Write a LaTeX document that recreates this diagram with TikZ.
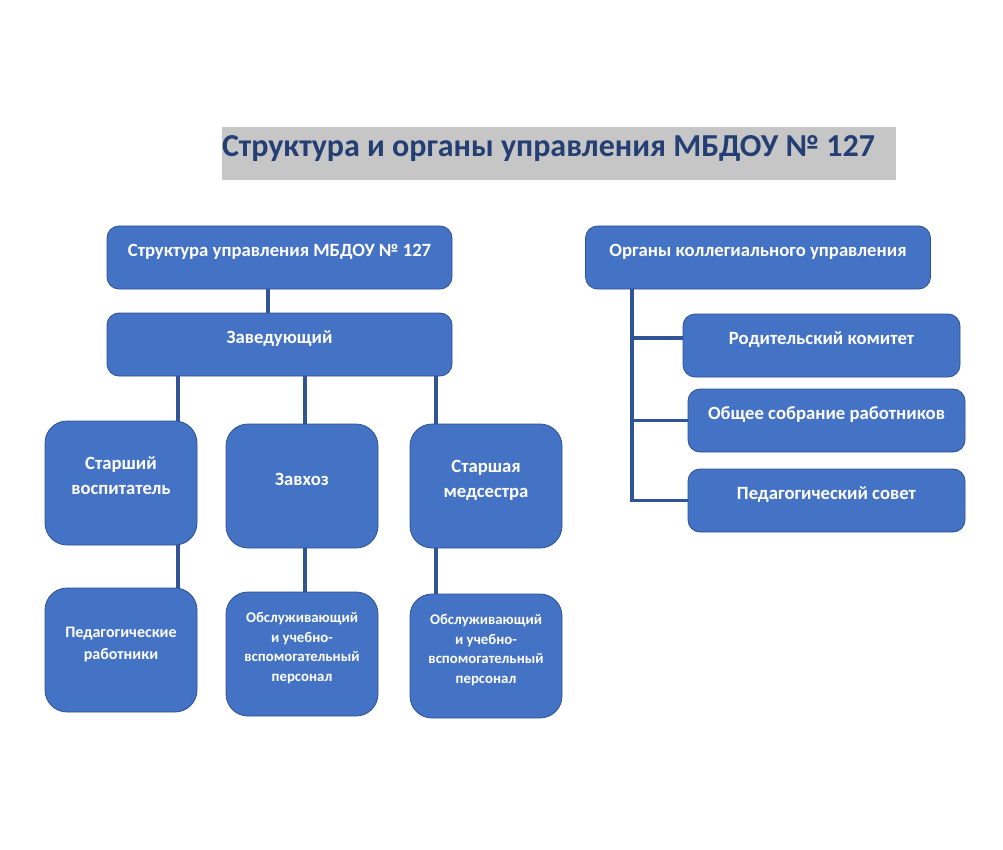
\documentclass[tikz,border=0pt]{standalone}
\usepackage{fontspec}
\setmainfont{Carlito}
\usepackage{tikz}

\definecolor{boxfill}{HTML}{4472C4}
\definecolor{boxline}{HTML}{2F528F}
\definecolor{connline}{HTML}{2F5597}
\definecolor{titlegray}{HTML}{C6C6C6}
\definecolor{titleblue}{HTML}{243F73}

% texto da caixa um pouco acima do centro
\newcommand{\lift}[1]{\raisebox{6pt}[\height][\depth]{\begin{tabular}{@{}c@{}}#1\end{tabular}}}

\tikzset{
    caixa/.style={draw=boxline, line width=0.8pt, fill=boxfill, text=white, inner sep=0pt,
        rounded corners=12pt, minimum width=345pt, minimum height=63pt,
        font=\bfseries\fontsize{18.7}{25}\selectfont},
    alta/.style={caixa, rounded corners=22pt, minimum width=152pt, minimum height=124pt},
    menor/.style={alta, font=\bfseries\fontsize{14.8}{19.5}\selectfont},
    conexao/.style={draw=connline, line width=3.5pt}
}

\begin{document}
\begin{tikzpicture}[x=1pt, y=-1pt]

        \useasboundingbox (0,0) rectangle (1003,850);

        % titulo
        \node[fill=titlegray, text=titleblue, minimum height=53pt, minimum width=674pt, inner sep=0pt,
            font=\bfseries\fontsize{32}{38}\selectfont] (titulo) at (559,153.5)
            {\makebox[674pt][l]{\raisebox{5pt}[\height][\depth]{Структура и органы управления МБДОУ №~127}}};

        % lado esquerdo
        \node[caixa] (estrutura) at (279.5,257.5) {\lift{Структура управления МБДОУ № 127}};
        \node[caixa] (chefe) at (279.5,344.5) {\lift{Заведующий}};

        \node[alta] (vospit) at (121,483) {\lift{Старший\\воспитатель}};
        \node[alta] (zavhoz) at (302,486) {\lift{Завхоз}};
        \node[alta] (medsestra) at (486,486) {\lift{Старшая\\медсестра}};

        \node[menor, font=\bfseries\fontsize{16}{22}\selectfont] (pedrab) at (121,650) {\lift{Педагогические\\работники}};
        \node[menor] (pessoal1) at (302,654) {\lift{Обслуживающий\\и учебно-\\вспомогательный\\персонал}};
        \node[menor] (pessoal2) at (486,656) {\lift{Обслуживающий\\и учебно-\\вспомогательный\\персонал}};

        \draw[conexao] (estrutura.south -| 268,0) -- (chefe.north -| 268,0);
        \draw[conexao] (chefe.south -| 178,0) -- (vospit.north -| 178,0);
        \draw[conexao] (chefe.south -| 305,0) -- (zavhoz.north -| 305,0);
        \draw[conexao] (chefe.south -| 436,0) -- (medsestra.north -| 436,0);
        \draw[conexao] (vospit.south -| 178,0) -- (pedrab.north -| 178,0);
        \draw[conexao] (zavhoz.south -| 305,0) -- (pessoal1.north -| 305,0);
        \draw[conexao] (medsestra.south -| 436,0) -- (pessoal2.north -| 436,0);

        % lado direito
        \node[caixa] (orgaos) at (758,257.5) {\lift{Органы коллегиального управления}};
        \node[caixa, minimum width=277pt] (comite) at (821.5,345.5) {\lift{Родительский комитет}};
        \node[caixa, minimum width=277pt] (reuniao) at (826.5,420.5) {\lift{Общее собрание работников}};
        \node[caixa, minimum width=277pt] (conselho) at (826.5,500.5) {\lift{Педагогический совет}};

        \draw[conexao] (orgaos.south -| 632,0) |- (conselho.west);
        \draw[conexao] (632,0 |- comite.177.5) -- (comite.177.5);
        \draw[conexao] (632,0 |- reuniao.west) -- (reuniao.west);

    \end{tikzpicture}
\end{document}
